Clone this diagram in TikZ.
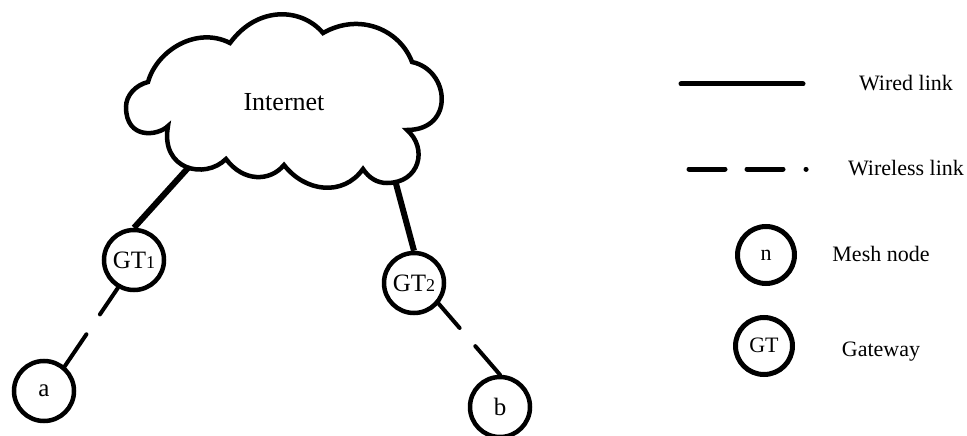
\documentclass[tikz,border=0pt]{standalone}
\usepackage{fontspec}
\setmainfont{Liberation Serif}
\newcommand{\fsa}{\fontsize{22}{26}\selectfont}
\newcommand{\fsb}{\fontsize{25}{28}\selectfont}
\newcommand{\fsc}{\fontsize{26}{30}\selectfont}
\newcommand{\fss}{\fontsize{18}{20}\selectfont}
\tikzset{
  meshnode/.style={circle,draw=black,line width=4.5pt,minimum size=60pt,inner sep=0pt,fill=white,font=\fsb},
  legnode/.style={circle,draw=black,line width=5pt,minimum size=57pt,inner sep=0pt,fill=white,font=\fsa},
  wired/.style={line width=6pt,black},
  wireless/.style={line width=4pt,black,line cap=round,dash pattern=on 32pt off 24pt on 200pt off 0pt},
  legline/.style={line width=5pt,black,line cap=round},
  legdash/.style={legline,dash pattern=on 36pt off 22pt on 36pt off 23pt on 0.1pt off 20pt},
  cloudline/.style={draw=black,line width=4.5pt,fill=white,line join=miter},
  lab/.style={font=\fsa,inner sep=0pt}
}
\begin{document}
\begin{tikzpicture}[x=1pt,y=-1pt]
\useasboundingbox (0,0) rectangle (967,436);
\clip (0,0) rectangle (967,436);
\coordinate (c1) at (188,168);
\coordinate (c2) at (395,180);
\node[meshnode] (gt1) at (134,260) {GT{\fss 1}};
\node[meshnode] (gt2) at (414,283) {GT{\fss 2}};
\node[meshnode] (a) at (44,391) {a};
\node[meshnode] (b) at (500,407) {b};
\draw[wired] (c1) -- (gt1.north);
\draw[wired] (c2) -- (gt2.north);
\draw[wireless] (gt1.-120) -- (a.50);
\draw[wireless] (gt2.-40) -- (b.north);
\draw[cloudline] (148,82)
  .. controls (157,50) and (197,26) .. (230,43)
  .. controls (258,5) and (302,8) .. (323,33)
  .. controls (360,12) and (400,30) .. (412,62)
  .. controls (450,70) and (455,130) .. (407,130)
  .. controls (428,148) and (420,183) .. (387,183)
  .. controls (377,183) and (369,178) .. (363,169)
  .. controls (343,197) and (305,192) .. (284,165)
  .. controls (270,182) and (243,182) .. (226,159)
  .. controls (205,180) and (160,170) .. (168,126)
  .. controls (158,136) and (126,140) .. (126,107)
  .. controls (126,95) and (136,85) .. (148,82) -- cycle;
\node[font=\fsc,inner sep=0pt] (inet) at (284,102) {Internet};
\coordinate (l1a) at (681,84);
\coordinate (l1b) at (803,84);
\draw[legline] (l1a) -- (l1b);
\coordinate (l2a) at (689,169);
\coordinate (l2b) at (808,169);
\draw[legdash] (l2a) -- (l2b);
\node[legnode] (ln) at (766,255) {n};
\node[legnode] (lg) at (764,346) {};
\node[font=\fsa,inner sep=0pt] (lgt) at (764,345) {GT};
\node[lab] (t1) at (906,83) {Wired link};
\node[lab] (t2) at (906,168) {Wireless link};
\node[lab] (t3) at (881,254) {Mesh node};
\node[lab] (t4) at (881,352) {Gateway};
\end{tikzpicture}
\end{document}
